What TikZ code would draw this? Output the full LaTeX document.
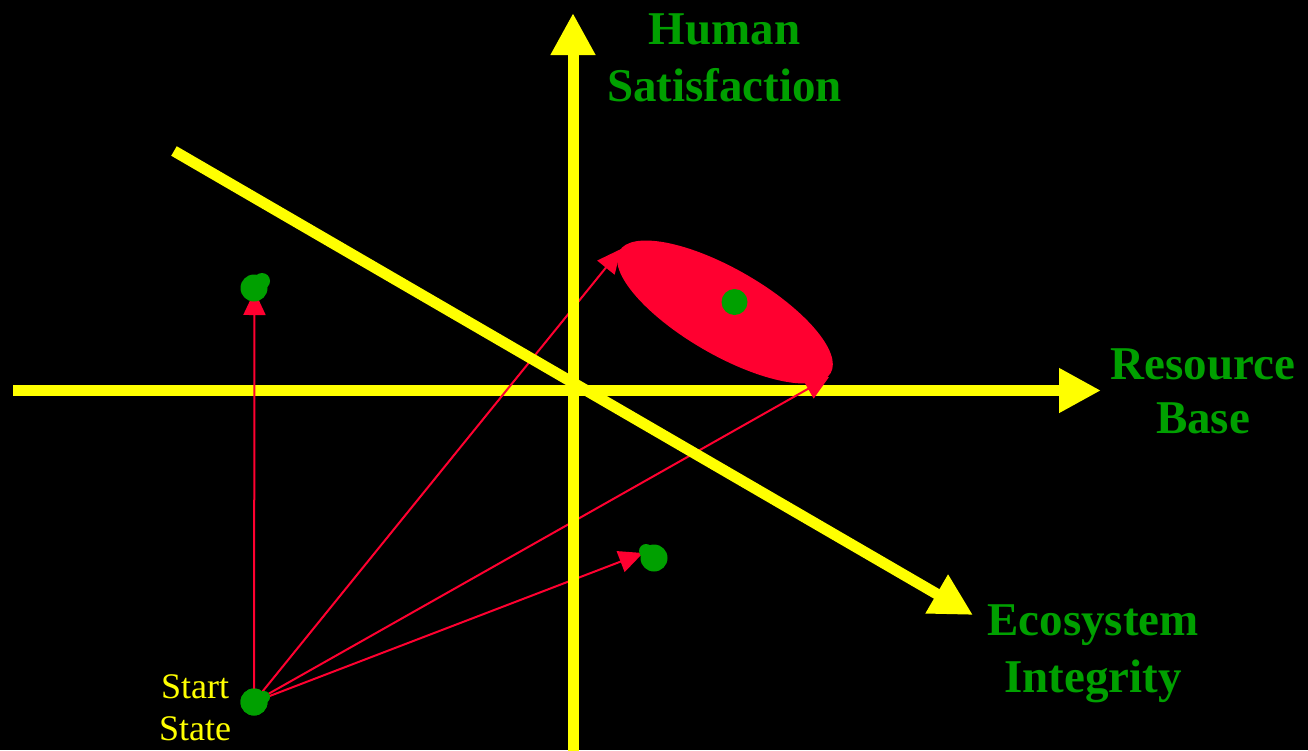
\documentclass[tikz,border=0pt]{standalone}
\usepackage{fontspec}
\setmainfont{Liberation Serif}
\usetikzlibrary{arrows.meta,shapes.geometric}
\definecolor{ax}{RGB}{255,255,0}
\definecolor{gr}{RGB}{0,160,0}
\definecolor{rd}{RGB}{255,0,48}
\begin{document}
\begin{tikzpicture}[x=1pt,y=-1pt,
  axis/.style={ax, line width=11pt, -{Triangle[length=42pt,width=42pt]}},
  move/.style={rd, line width=2pt, -{Triangle[length=24pt,width=22pt]}},
  dot/.style={circle, fill=gr, minimum size=27pt, inner sep=0pt},
  lbl/.style={gr, font=\bfseries\fontsize{47}{57}\selectfont, align=center, inner sep=0pt, anchor=base},
  sl/.style={ax, font=\fontsize{36}{42}\selectfont, align=center, inner sep=0pt, anchor=base}]
\fill[black] (0,0) rectangle (1308,750);
\useasboundingbox (0,0) rectangle (1308,750);
% coordinates of axis ends
\coordinate (hb) at (13,390.5);
\coordinate (ht) at (1101,390.5);
\coordinate (vb) at (573,752);
\coordinate (vt) at (573,13);
\coordinate (db) at (174,151);
\coordinate (dt) at (973,615);
% goal ellipse
\node[ellipse, fill=rd, minimum width=244pt, minimum height=86pt, inner sep=0pt, rotate=-30] (goal) at (725,312) {};
% horizontal axis
\draw[axis] (hb) -- (ht);
% moves
\node[dot] (start) at (254,702) {};
\coordinate (t1) at (254.5,291);
\coordinate (t2) at (621,249);
\coordinate (t3) at (829,377);
\coordinate (t4) at (643,553);
\draw[move] (start.center) -- (t1);
\draw[move] (start.center) -- (t2);
\draw[move] (start.center) -- (t3);
\draw[move] (start.center) -- (t4);
% other axes
\draw[axis] (vb) -- (vt);
\draw[axis] (db) -- (dt);
% dots
\node[dot] at (254,702) {};
\fill[gr] (264,697) circle[radius=6];
\node[dot] (s1) at (254,288) {};
\fill[gr] (262,281) circle[radius=8];
\node[dot] (s2) at (654,558) {};
\fill[gr] (646,551) circle[radius=7];
\node[dot, minimum size=26pt] (g) at (734.5,302) {};
% labels
\node[lbl] (hs) at (724.5,101) {Human\\Satisfaction};
\node[lbl] (rb) at (1203,433) {Resource\\[-3pt]Base};
\node[lbl] (ei) at (1093,692) {Ecosystem\\Integrity};
\node[sl] (ss) at (195,740) {Start\\State};
\end{tikzpicture}
\end{document}
